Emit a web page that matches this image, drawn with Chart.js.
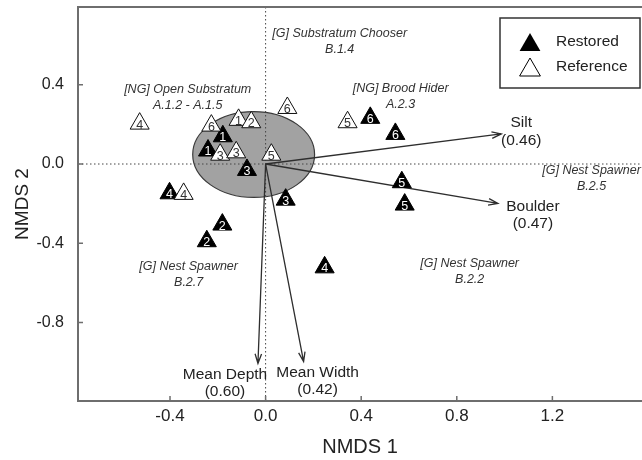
<!DOCTYPE html>
<html><head><meta charset="utf-8">
<script src="https://cdn.jsdelivr.net/npm/chart.js@4.4.1/dist/chart.umd.min.js"></script>
<style>html,body{margin:0;padding:0;background:#fff;}#wrap{width:642px;height:460px;position:relative;}</style>
</head><body><div id="wrap"><canvas id="c"></canvas></div>
<script>
// ---- data (NMDS scores) ----
const restoredX    = [-0.179, -0.241, -0.078, 0.084, -0.402, -0.181, -0.246, 0.247, 0.438, 0.543, 0.570, 0.582];
const restoredY    = [ 0.140,  0.068, -0.030, -0.180, -0.148, -0.306, -0.390, -0.522, 0.233, 0.152, -0.092, -0.205];
const restoredSite = ['1','1','3','3','4','2','2','4','6','6','5','5'];

const referenceX    = [-0.527, -0.227, -0.113, -0.060, 0.091, 0.343, -0.190, -0.123, 0.024, -0.343];
const referenceY    = [ 0.204,  0.194,  0.223,  0.211, 0.283, 0.211,  0.047,  0.059, 0.047, -0.151];
const referenceSite = ['4','6','1','2','6','5','3','3','5','4'];

const vectorNames = ['Silt', 'Boulder', 'Mean Depth', 'Mean Width'];
const vectorR2    = ['(0.46)', '(0.47)', '(0.60)', '(0.42)'];
const vectorX     = [0.986, 0.972, -0.032, 0.159];
const vectorY     = [0.152, -0.199, -1.007, -0.998];

const guildNames = ['[G] Substratum Chooser', '[NG] Open Substratum', '[NG] Brood Hider', '[G] Nest Spawner', '[G] Nest Spawner', '[G] Nest Spawner'];
const guildCodes = ['B.1.4', 'A.1.2 - A.1.5', 'A.2.3', 'B.2.5', 'B.2.2', 'B.2.7'];
const guildX     = [0.310, -0.326, 0.565, 1.364, 0.854, -0.322];
const guildY     = [0.657, 0.374, 0.379, -0.035, -0.505, -0.520];

const ellipseCentre = [-0.05, 0.048];
const ellipseRadii  = [0.255, 0.217];

const xTickStep = 0.4, yTickStep = 0.4;
const xRange = [-0.785, 1.575];
const yRange = [-1.197, 0.793];

// ---- drawing ----
const FONT = "'Liberation Sans', Arial, Helvetica, sans-serif";
const vectorLabelOffset = [[20, -11], [35, 3], [-33, 11], [14, 11]];

function tri(ctx, x, y, r) {
  ctx.beginPath();
  for (let i = 0; i < 3; i++) {
    const a = i * 2 * Math.PI / 3;
    const px = x + Math.sin(a) * r, py = y - Math.cos(a) * r;
    if (i === 0) ctx.moveTo(px, py); else ctx.lineTo(px, py);
  }
  ctx.closePath();
}

const ordination = {
  id: 'ordination',
  beforeDatasetsDraw(chart) {
    const {ctx, chartArea: a, scales: {x, y}} = chart;
    ctx.save();
    const cx = x.getPixelForValue(ellipseCentre[0]), cy = y.getPixelForValue(ellipseCentre[1]);
    const rx = x.getPixelForValue(ellipseCentre[0] + ellipseRadii[0]) - cx;
    const ry = cy - y.getPixelForValue(ellipseCentre[1] + ellipseRadii[1]);
    ctx.beginPath();
    ctx.ellipse(cx, cy, rx, ry, 0, 0, Math.PI * 2);
    ctx.fillStyle = '#a2a2a2';
    ctx.fill();
    ctx.lineWidth = 1.2;
    ctx.strokeStyle = '#3a3a3a';
    ctx.stroke();
    const x0 = x.getPixelForValue(0), y0 = y.getPixelForValue(0);
    ctx.setLineDash([1.5, 2.5]);
    ctx.lineWidth = 1;
    ctx.strokeStyle = '#444';
    ctx.beginPath();
    ctx.moveTo(x0, a.top); ctx.lineTo(x0, a.bottom);
    ctx.moveTo(a.left, y0); ctx.lineTo(a.right, y0);
    ctx.stroke();
    ctx.setLineDash([]);
    ctx.strokeStyle = '#2e2e2e';
    ctx.lineWidth = 1.3;
    for (let i = 0; i < vectorX.length; i++) {
      const tx = x.getPixelForValue(vectorX[i]), ty = y.getPixelForValue(vectorY[i]);
      ctx.beginPath();
      ctx.moveTo(x0, y0); ctx.lineTo(tx, ty);
      const ang = Math.atan2(ty - y0, tx - x0);
      const L = 10, s = 0.33;
      ctx.moveTo(tx - L * Math.cos(ang - s), ty - L * Math.sin(ang - s));
      ctx.lineTo(tx, ty);
      ctx.lineTo(tx - L * Math.cos(ang + s), ty - L * Math.sin(ang + s));
      ctx.stroke();
    }
    ctx.restore();
  },
  afterDatasetDraw(chart, args) {
    const ds = chart.data.datasets[args.index];
    const ctx = chart.ctx;
    ctx.save();
    ctx.font = '12.5px ' + FONT;
    ctx.textAlign = 'center';
    ctx.textBaseline = 'middle';
    ctx.fillStyle = ds.siteColor;
    args.meta.data.forEach((pt, i) => {
      ctx.fillText(ds.siteLabels[i], pt.x, pt.y + 1.5);
    });
    ctx.restore();
  },
  afterDraw(chart) {
    const {ctx, chartArea: a, scales: {x, y}} = chart;
    ctx.save();
    ctx.strokeStyle = '#6e6e6e';
    ctx.lineWidth = 2;
    ctx.beginPath();
    ctx.moveTo(a.right + 2, a.top); ctx.lineTo(a.left, a.top); ctx.lineTo(a.left, a.bottom); ctx.lineTo(a.right + 2, a.bottom);
    ctx.stroke();
    ctx.lineWidth = 1.5;
    ctx.beginPath();
    x.ticks.forEach(t => { const p = x.getPixelForValue(t.value); ctx.moveTo(p, a.bottom); ctx.lineTo(p, a.bottom - 5); });
    y.ticks.forEach(t => { const p = y.getPixelForValue(t.value); ctx.moveTo(a.left, p); ctx.lineTo(a.left + 5, p); });
    ctx.stroke();
    ctx.font = 'italic 12.5px ' + FONT;
    ctx.fillStyle = '#333';
    ctx.textAlign = 'center';
    ctx.textBaseline = 'middle';
    for (let i = 0; i < guildNames.length; i++) {
      const gx = x.getPixelForValue(guildX[i]), gy = y.getPixelForValue(guildY[i]);
      ctx.fillText(guildNames[i], gx, gy);
      ctx.fillText(guildCodes[i], gx, gy + 16);
    }
    ctx.font = '15.5px ' + FONT;
    ctx.fillStyle = '#222';
    for (let i = 0; i < vectorNames.length; i++) {
      const tx = x.getPixelForValue(vectorX[i]) + vectorLabelOffset[i][0];
      const ty = y.getPixelForValue(vectorY[i]) + vectorLabelOffset[i][1];
      ctx.fillText(vectorNames[i], tx, ty);
      ctx.fillText(vectorR2[i], tx, ty + 17.5);
    }
    ctx.strokeStyle = '#333';
    ctx.lineWidth = 1.5;
    ctx.strokeRect(500, 18, 140, 70);
    ctx.fillStyle = '#000';
    tri(ctx, 530, 45, 12); ctx.fill();
    ctx.fillStyle = '#fff'; ctx.strokeStyle = '#000'; ctx.lineWidth = 1;
    tri(ctx, 530, 70, 12); ctx.fill(); ctx.stroke();
    ctx.fillStyle = '#222';
    ctx.font = '15.5px ' + FONT;
    ctx.textAlign = 'left';
    ctx.fillText('Restored', 556, 42);
    ctx.fillText('Reference', 556, 67);
    ctx.restore();
  }
};

const tickFmt = v => { const r = Math.round(v * 10) / 10; return (Math.abs(r) < 1e-9 ? 0 : r).toFixed(1); };
const noPad = s => { s.paddingTop = 0; s.paddingBottom = 0; s.paddingLeft = 0; s.paddingRight = 0; };

new Chart(document.getElementById('c'), {
  type: 'scatter',
  data: {
    datasets: [
      {
        label: 'Restored',
        data: restoredX.map((v, i) => ({x: v, y: restoredY[i]})),
        siteLabels: restoredSite,
        siteColor: '#fff',
        pointStyle: 'triangle',
        pointRadius: 11,
        pointHoverRadius: 11,
        backgroundColor: '#000',
        borderColor: '#000',
        borderWidth: 1,
        order: 2
      },
      {
        label: 'Reference',
        data: referenceX.map((v, i) => ({x: v, y: referenceY[i]})),
        siteLabels: referenceSite,
        siteColor: '#333',
        pointStyle: 'triangle',
        pointRadius: 11,
        pointHoverRadius: 11,
        backgroundColor: '#fff',
        borderColor: '#111',
        borderWidth: 1,
        order: 1
      }
    ]
  },
  options: {
    responsive: true,
    maintainAspectRatio: false,
    animation: false,
    events: [],
    layout: {autoPadding: false, padding: {left: 0, right: 0, top: 7, bottom: 0}},
    plugins: {legend: {display: false}, tooltip: {enabled: false}},
    scales: {
      x: {
        type: 'linear',
        min: xRange[0], max: xRange[1],
        grid: {display: false, drawTicks: false},
        border: {display: false},
        ticks: {stepSize: xTickStep, includeBounds: false, padding: 5, color: '#222', font: {family: FONT, size: 17}, callback: tickFmt},
        title: {display: true, text: 'NMDS 1', color: '#222', font: {family: FONT, size: 20}, padding: {bottom: 1, top: 0}},
        afterFit(s) { s.height = 59; noPad(s); }
      },
      y: {
        type: 'linear',
        min: yRange[0], max: yRange[1],
        grid: {display: false, drawTicks: false},
        border: {display: false},
        ticks: {stepSize: yTickStep, includeBounds: false, padding: 14, color: '#222', font: {family: FONT, size: 16}, callback: tickFmt},
        title: {display: true, text: 'NMDS 2', color: '#222', font: {family: FONT, size: 19}, padding: {top: 11, bottom: 0}},
        afterFit(s) { s.width = 78; noPad(s); }
      }
    }
  },
  plugins: [ordination]
});
</script></body></html>
